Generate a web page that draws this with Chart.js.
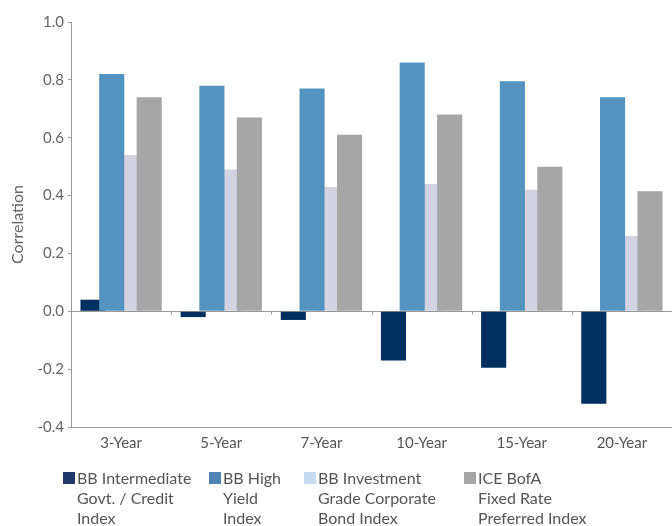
<!DOCTYPE html>
<html>
<head>
<meta charset="utf-8">
<script src="https://cdn.jsdelivr.net/npm/chart.js@4"></script>
<style>
  html, body { margin:0; padding:0; background:#fff; }
  #wrap { position:relative; width:672px; height:526px; overflow:hidden; }
  #c { position:absolute; left:0; top:0; }
  .lg { position:absolute; top:468px; font-family:Lato, sans-serif; font-size:16px; line-height:20px; color:#555; white-space:nowrap; }
  .lg i { position:absolute; left:-14px; top:4px; width:12px; height:12px; }
</style>
</head>
<body>
<div id="wrap">
  <canvas id="c" width="672" height="526"></canvas>
  <div id="legend"></div>
</div>
<script>
// categories / series
const periods = ['3-Year', '5-Year', '7-Year', '10-Year', '15-Year', '20-Year'];

const govCredit   = [0.04, -0.02, -0.03, -0.17, -0.195, -0.32];
const highYield   = [0.82, 0.78, 0.77, 0.86, 0.795, 0.74];
const invGrade    = [0.54, 0.49, 0.43, 0.44, 0.42, 0.26];
const preferred   = [0.74, 0.67, 0.61, 0.68, 0.50, 0.415];

const seriesNames = [
  ['BB Intermediate', 'Govt. / Credit', 'Index'],
  ['BB High', 'Yield', 'Index'],
  ['BB Investment', 'Grade Corporate', 'Bond Index'],
  ['ICE BofA', 'Fixed Rate', 'Preferred Index'],
];
const barColors    = ['#00305f', '#5493bf', '#d2d2e1', '#a6a6a6'];
const legendColors = ['#21386a', '#4f83b3', '#c6daef', '#a5a5a5'];

const yTicks = [-0.4, -0.2, 0.0, 0.2, 0.4, 0.6, 0.8, 1.0];

// legend (html, multi-line)
const legendX = [77, 223, 318, 478];
const lg = document.getElementById('legend');
seriesNames.forEach((lines, i) => {
  const d = document.createElement('div');
  d.className = 'lg';
  d.style.left = legendX[i] + 'px';
  const sw = document.createElement('i');
  sw.style.background = legendColors[i];
  d.appendChild(sw);
  lines.forEach((t, k) => {
    if (k) d.appendChild(document.createElement('br'));
    d.appendChild(document.createTextNode(t));
  });
  lg.appendChild(d);
});

const AXIS = '#999999';

// draw light bars underneath, blue/gray on top (overlapping bars)
const drawOrder = [2, 0, 1, 3];
const orderPlugin = {
  id: 'orderPlugin',
  beforeDatasetsDraw(chart) {
    const ctx = chart.ctx, a = chart.chartArea;
    ctx.save();
    ctx.beginPath();
    ctx.rect(a.left, a.top, a.right - a.left, a.bottom - a.top);
    ctx.clip();
    for (const i of drawOrder) chart.getDatasetMeta(i).controller.draw();
    ctx.restore();

    // small ticks under the zero line at category boundaries
    const x = chart.scales.x, y = chart.scales.y;
    const y0 = Math.round(y.getPixelForValue(0)) + 0.5;
    ctx.save();
    ctx.strokeStyle = AXIS;
    ctx.lineWidth = 1;
    for (let i = 0; i < periods.length - 1; i++) {
      const xb = Math.round((x.getPixelForValue(i) + x.getPixelForValue(i + 1)) / 2) + 0.5;
      ctx.beginPath();
      ctx.moveTo(xb, y0);
      ctx.lineTo(xb, y0 + 3);
      ctx.stroke();
    }
    ctx.restore();
    return false;
  }
};

const mk = (i, data) => ({
  label: seriesNames[i].join(' '),
  data,
  backgroundColor: barColors[i],
  borderWidth: 0,
  categoryPercentage: 0.748,
  barPercentage: 1.34,
});

new Chart(document.getElementById('c'), {
  type: 'bar',
  data: {
    labels: periods,
    datasets: [mk(0, govCredit), mk(1, highYield), mk(2, invGrade), mk(3, preferred)],
  },
  plugins: [orderPlugin],
  options: {
    responsive: false,
    animation: false,
    layout: { padding: { top: 22, right: 0, left: 0, bottom: 0 } },
    plugins: { legend: { display: false }, tooltip: { enabled: false } },
    scales: {
      x: {
        grid: { display: false },
        border: { display: true, color: AXIS },
        ticks: { color: '#555', padding: -1, font: { family: 'Lato', size: 15 } },
        afterFit(s) { s.height = 99; },
      },
      y: {
        min: -0.4, max: 1.0,
        afterBuildTicks(s) { s.ticks = yTicks.map(v => ({ value: v })); },
        grid: {
          drawOnChartArea: true,
          color: c => (c.tick && Math.abs(c.tick.value) < 1e-9 ? AXIS : 'rgba(0,0,0,0)'),
          tickColor: AXIS,
          tickLength: 3,
        },
        border: { display: true, color: AXIS },
        ticks: {
          color: '#666',
          padding: 4,
          font: { family: 'Lato', size: 15 },
          callback: v => v.toFixed(1),
        },
        title: {
          display: true, text: 'Correlation', color: '#666',
          font: { family: 'Lato', size: 16 }, padding: { top: 8, bottom: 0 },
        },
        afterFit(s) { s.width = 71; },
      },
    },
  },
});
</script>
</body>
</html>
